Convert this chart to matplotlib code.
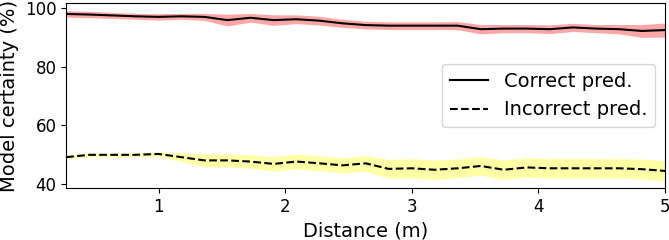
import numpy as np
import matplotlib.pyplot as plt

# distances (m) and model certainty (%) per prediction type
distance = np.linspace(0.27, 5.0, 27)

correct_mean = [98.0, 97.8, 97.5, 97.2, 97.0, 97.2, 97.0, 95.9, 96.7, 95.9,
                96.2, 95.7, 94.8, 94.2, 94.0, 94.0, 94.0, 94.0, 92.8, 93.0,
                93.0, 92.8, 93.4, 93.0, 92.8, 92.2, 92.5]
correct_std = [1.1, 1.1, 1.0, 1.0, 1.1, 1.0, 1.2, 2.0, 1.5, 1.8,
               1.5, 1.5, 1.4, 1.3, 1.3, 1.3, 1.3, 1.4, 1.6, 1.4,
               1.4, 1.5, 1.4, 1.4, 1.6, 2.2, 2.4]

incorrect_mean = [49.1, 49.9, 49.9, 49.9, 50.2, 49.1, 48.0, 48.0, 47.6, 46.8,
                  47.6, 47.0, 46.3, 47.0, 45.1, 45.3, 44.8, 45.3, 46.1, 44.8,
                  45.6, 45.3, 45.3, 45.3, 45.3, 45.0, 44.4]
incorrect_std = [0.6, 0.6, 0.6, 0.6, 0.7, 1.5, 2.2, 2.2, 2.3, 2.5,
                 2.5, 2.6, 2.6, 2.7, 3.2, 3.3, 3.3, 3.2, 3.2, 3.3,
                 3.3, 3.3, 3.3, 3.3, 3.3, 3.4, 3.5]

correct_mean = np.array(correct_mean)
correct_std = np.array(correct_std)
incorrect_mean = np.array(incorrect_mean)
incorrect_std = np.array(incorrect_std)

fig, ax = plt.subplots(figsize=(6.69, 2.4), dpi=100)
fig.subplots_adjust(left=0.099, right=0.994, top=0.987, bottom=0.217)

ax.fill_between(distance, correct_mean - correct_std, correct_mean + correct_std,
                color='red', alpha=0.35, linewidth=0)
ax.fill_between(distance, incorrect_mean - incorrect_std, incorrect_mean + incorrect_std,
                color='yellow', alpha=0.35, linewidth=0)
ax.plot(distance, correct_mean, color='black', linestyle='-', linewidth=1.5, label='Correct pred.')
ax.plot(distance, incorrect_mean, color='black', linestyle='--', linewidth=1.5, label='Incorrect pred.')

ax.set_xlim(0.27, 5.0)
ax.set_ylim(38.6, 101.7)
ax.set_xticks([1, 2, 3, 4, 5])
ax.set_yticks([40, 60, 80, 100])
ax.tick_params(labelsize=12)
ax.set_xlabel('Distance (m)', fontsize=14)
ax.set_ylabel('Model certainty (%)', fontsize=14)
ax.legend(loc='center right', fontsize=14)

plt.savefig('out.png', dpi=100)
